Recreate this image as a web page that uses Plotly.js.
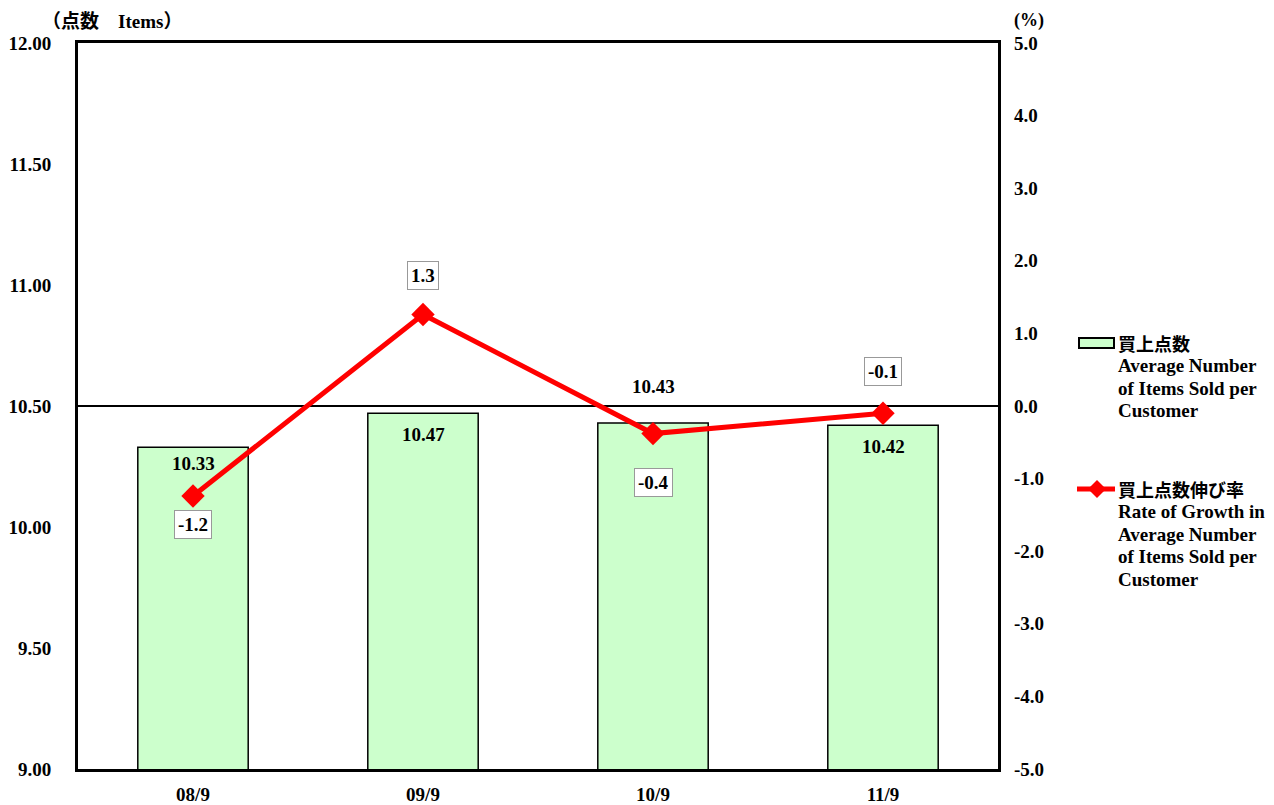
<!DOCTYPE html>
<html><head><meta charset="utf-8">
<script src="https://cdn.plot.ly/plotly-3.0.1.min.js"></script>
<style>body{margin:0;background:#fff}#chart{width:1274px;height:805px}</style>
</head><body><div id="chart"></div>
<script>
const categories = ['08/9','09/9','10/9','11/9'];
const itemsSold = [10.33, 10.47, 10.43, 10.42];
const growthRate = [-1.24, 1.26, -0.38, -0.1];
const barLabels = ['10.33','10.47','10.43','10.42'];
const rateLabels = ['-1.2','1.3','-0.4','-0.1'];
const leftTicks = [9.0, 9.5, 10.0, 10.5, 11.0, 11.5, 12.0];
const rightTicks = [-5,-4,-3,-2,-1,0,1,2,3,4,5];
const legendBarLines = ['買上点数','Average Number','of Items Sold per','Customer'];
const legendLineLines = ['買上点数伸び率','Rate of Growth in','Average Number','of Items Sold per','Customer'];

const FONT = 'Liberation Serif, Noto Sans CJK JP, serif';
const CJK = 'Noto Sans CJK JP, sans-serif';
const W = 1274, H = 805, ML = 78, MR = 276, MT = 43, MB = 36;
const PW = W - ML - MR, PH = H - MT - MB;
const px = x => (x - ML) / PW;
const py = y => (H - MB - y) / PH;

const bar = {
  type:'bar', x:categories, y:itemsSold, name:'買上点数',
  marker:{color:'#CCFFCC', line:{color:'#000', width:1.5}},
  width:0.48, hoverinfo:'skip', showlegend:false
};
const line = {
  type:'scatter', mode:'lines+markers', x:categories, y:growthRate, yaxis:'y2',
  name:'買上点数伸び率',
  line:{color:'#FF0000', width:5},
  marker:{symbol:'diamond', size:18, color:'#FF0000'},
  hoverinfo:'skip', showlegend:false
};

const barShift = [-16, -21, 36, -21];
const rateShift = [-28, 39, -49, 42];
const annotations = [];
categories.forEach((c,i)=>{
  annotations.push({x:c, y:itemsSold[i], xref:'x', yref:'y', text:'<b>'+barLabels[i]+'</b>',
    showarrow:false, yshift:barShift[i], font:{family:FONT, size:19, color:'#000'}});
  annotations.push({x:c, y:growthRate[i], xref:'x', yref:'y2', text:'<b>'+rateLabels[i]+'</b>',
    showarrow:false, yshift:rateShift[i], font:{family:FONT, size:19, color:'#000'},
    bgcolor:'#fff', bordercolor:'#999', borderwidth:1, borderpad:3});
});
annotations.push({xref:'paper', yref:'paper', x:px(40), y:py(22), xanchor:'left', yanchor:'middle',
  text:'<b>（点数　Items）</b>', showarrow:false, font:{family:FONT, size:19, color:'#000'}});
annotations.push({xref:'paper', yref:'paper', x:px(1029), y:py(20), xanchor:'center', yanchor:'middle',
  text:'<b>(%)</b>', showarrow:false, font:{family:FONT, size:18, color:'#000'}});

function legendText(lines, y0){
  lines.forEach((t,i)=>{
    const isCJK = i === 0;
    annotations.push({xref:'paper', yref:'paper', x:px(1116), y:py(y0 + i*22.5), xanchor:'left', yanchor:'middle',
      text:'<b>'+t+'</b>', showarrow:false,
      font:{family:isCJK ? CJK : FONT, size:isCJK ? 18 : 19, color:'#000'}});
  });
}
legendText(legendBarLines, 343);
legendText(legendLineLines, 489);

const dy = 9;
const shapes = [
  {type:'rect', xref:'paper', yref:'paper', x0:px(1079), x1:px(1114), y0:py(348), y1:py(338),
    fillcolor:'#CCFFCC', line:{color:'#000', width:2}},
  {type:'line', xref:'paper', yref:'paper', x0:px(1077), x1:px(1115), y0:py(489), y1:py(489),
    line:{color:'#FF0000', width:5}},
  {type:'path', xref:'paper', yref:'paper',
    path:`M ${px(1097)} ${py(489-dy)} L ${px(1097+dy)} ${py(489)} L ${px(1097)} ${py(489+dy)} L ${px(1097-dy)} ${py(489)} Z`,
    fillcolor:'#FF0000', line:{color:'#FF0000', width:0}}
];

const layout = {
  width:W, height:H,
  margin:{l:ML, r:MR, t:MT, b:MB},
  paper_bgcolor:'#fff', plot_bgcolor:'#fff',
  font:{family:FONT, color:'#000'},
  showlegend:false,
  xaxis:{type:'category', range:[-0.5,3.5], showline:true, linecolor:'#000', linewidth:3, mirror:true,
    ticks:'', showgrid:false, tickfont:{family:FONT, size:19, color:'#000'}, ticklabelstandoff:6,
    tickvals:categories, ticktext:categories.map(c=>'<b>'+c+'</b>')},
  yaxis:{range:[9,12], tickvals:leftTicks, ticktext:leftTicks.map(v=>'<b>'+v.toFixed(2)+'</b>'),
    showline:true, linecolor:'#000', linewidth:3, mirror:true, ticks:'', showgrid:false, zeroline:false,
    tickfont:{family:FONT, size:19, color:'#000'}, ticklabelstandoff:20},
  yaxis2:{range:[-5,5], overlaying:'y', side:'right', tickvals:rightTicks,
    ticktext:rightTicks.map(v=>'<b>'+v.toFixed(1)+'</b>'),
    showline:false, ticks:'', showgrid:false, zeroline:true, zerolinecolor:'#000', zerolinewidth:1.5,
    tickfont:{family:FONT, size:19, color:'#000'}, ticklabelstandoff:15},
  annotations:annotations,
  shapes:shapes,
  barmode:'overlay'
};
Plotly.newPlot('chart', [bar, line], layout, {displayModeBar:false, staticPlot:true});
</script></body></html>
